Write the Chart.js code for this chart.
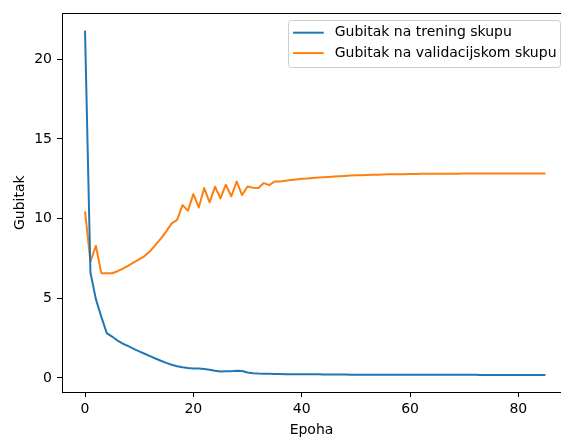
<!DOCTYPE html>
<html>
<head>
<meta charset="utf-8">
<script src="https://cdn.jsdelivr.net/npm/chart.js@4"></script>
<style>
  html, body { margin: 0; padding: 0; background: #fff; overflow: hidden; }
  #grafico { display: block; }
</style>
</head>
<body>
<canvas id="grafico" width="561" height="439"></canvas>
<script>
// vrijednosti po epohama (indeks = epoha)
const trainLoss = [
  21.8, 6.62, 4.95, 3.85, 2.82, 2.6, 2.35, 2.15, 2.0, 1.83,
  1.67, 1.52, 1.37, 1.22, 1.08, 0.95, 0.83, 0.74, 0.67, 0.62,
  0.6, 0.6, 0.57, 0.52, 0.45, 0.41, 0.42, 0.43, 0.45, 0.44,
  0.34, 0.3, 0.28, 0.27, 0.26, 0.25, 0.25, 0.24, 0.24, 0.24,
  0.23, 0.23, 0.23, 0.23, 0.22, 0.22, 0.22, 0.22, 0.22, 0.21,
  0.21, 0.21, 0.21, 0.21, 0.21, 0.21, 0.21, 0.2, 0.2, 0.2,
  0.2, 0.2, 0.2, 0.2, 0.2, 0.2, 0.2, 0.2, 0.2, 0.2,
  0.2, 0.2, 0.2, 0.19, 0.19, 0.19, 0.19, 0.19, 0.19, 0.19,
  0.19, 0.19, 0.19, 0.19, 0.19, 0.19
];
const valLoss = [
  10.45, 7.3, 8.3, 6.58, 6.57, 6.57, 6.7, 6.86, 7.05, 7.25,
  7.45, 7.65, 7.95, 8.35, 8.75, 9.2, 9.7, 9.92, 10.85, 10.5,
  11.54, 10.7, 11.92, 11.02, 12.0, 11.27, 12.13, 11.4, 12.33, 11.48,
  12.02, 11.94, 11.92, 12.23, 12.1, 12.33, 12.33, 12.38, 12.42, 12.46,
  12.5, 12.52, 12.55, 12.58, 12.6, 12.62, 12.64, 12.66, 12.68, 12.7,
  12.72, 12.73, 12.74, 12.75, 12.76, 12.77, 12.78, 12.78, 12.79, 12.79,
  12.8, 12.8, 12.81, 12.81, 12.81, 12.82, 12.82, 12.82, 12.82, 12.82,
  12.83, 12.83, 12.83, 12.83, 12.83, 12.83, 12.83, 12.83, 12.83, 12.83,
  12.83, 12.83, 12.83, 12.83, 12.83, 12.83
];
const seriesNames = ['Gubitak na trening skupu', 'Gubitak na validacijskom skupu'];
const xTicks = [0, 20, 40, 60, 80];
const yTicks = [0, 5, 10, 15, 20];

const boja1 = '#1f77b4';
const boja2 = '#ff7f0e';

Chart.defaults.font.family = 'DejaVu Sans';
Chart.defaults.font.size = 14;
Chart.defaults.color = '#000';

// gornji rub + legenda u stilu matplotliba (desni dio slike je odrezan)
const okvir = {
  id: 'okvir',
  afterDraw(chart) {
    const ctx = chart.ctx;
    const a = chart.chartArea;
    ctx.save();
    ctx.strokeStyle = '#000';
    ctx.lineWidth = 1;
    ctx.beginPath();
    ctx.moveTo(Math.round(a.left) + 0.5, Math.round(a.top) + 0.5);
    ctx.lineTo(a.right + 1, Math.round(a.top) + 0.5);
    ctx.stroke();

    ctx.font = '14px "DejaVu Sans"';
    const tw = Math.max(...seriesNames.map(s => ctx.measureText(s).width));
    const boxW = tw + 46.7 + 4;
    const boxR = 560.5;
    const boxL = boxR - boxW;
    const boxT = a.top + 6.3;
    const boxH = 47.4;
    ctx.beginPath();
    ctx.roundRect(Math.round(boxL) + 0.5, Math.round(boxT) + 0.5, Math.round(boxW), Math.round(boxH), 3);
    ctx.fillStyle = 'rgba(255,255,255,0.8)';
    ctx.fill();
    ctx.strokeStyle = '#cccccc';
    ctx.stroke();

    const boje = [boja1, boja2];
    seriesNames.forEach((s, i) => {
      const y = boxT + 13 + i * 20.4;
      ctx.strokeStyle = boje[i];
      ctx.lineWidth = 2;
      ctx.beginPath();
      ctx.moveTo(boxL + 5, y);
      ctx.lineTo(boxL + 35.7, y);
      ctx.stroke();
      ctx.fillStyle = '#000';
      ctx.textBaseline = 'middle';
      ctx.textAlign = 'left';
      ctx.fillText(s, boxL + 46.7, y);
    });
    ctx.restore();
  }
};

const data = {
  datasets: [
    {
      label: seriesNames[0],
      data: trainLoss.map((v, i) => ({ x: i, y: v })),
      borderColor: boja1,
      backgroundColor: boja1,
      borderWidth: 2,
      pointRadius: 0,
      tension: 0,
      borderJoinStyle: 'round'
    },
    {
      label: seriesNames[1],
      data: valLoss.map((v, i) => ({ x: i, y: v })),
      borderColor: boja2,
      backgroundColor: boja2,
      borderWidth: 2,
      pointRadius: 0,
      tension: 0,
      borderJoinStyle: 'round'
    }
  ]
};

const config = {
  type: 'line',
  data: data,
  options: {
    responsive: false,
    animation: false,
    devicePixelRatio: 1,
    layout: { padding: { left: 0, top: 13, right: 0, bottom: 0 } },
    plugins: {
      legend: { display: false },
      tooltip: { enabled: false }
    },
    scales: {
      x: {
        type: 'linear',
        min: -4.25,
        max: 87.87,
        afterBuildTicks: s => { s.ticks = xTicks.map(v => ({ value: v })); },
        afterFit: s => { s.height = 47; },
        ticks: { padding: 4, color: '#000', font: { size: 14 } },
        grid: { drawOnChartArea: false, drawTicks: true, tickLength: 5, tickColor: '#000', tickWidth: 1 },
        border: { display: true, color: '#000', width: 1 },
        title: { display: true, text: 'Epoha', color: '#000', font: { size: 14 }, padding: { top: 0, bottom: 0.6 } }
      },
      y: {
        type: 'linear',
        min: -0.88,
        max: 22.88,
        afterBuildTicks: s => { s.ticks = yTicks.map(v => ({ value: v })); },
        afterFit: s => { s.width = 62; },
        ticks: { padding: 5, color: '#000', font: { size: 14 } },
        grid: { drawOnChartArea: false, drawTicks: true, tickLength: 5, tickColor: '#000', tickWidth: 1 },
        border: { display: true, color: '#000', width: 1 },
        title: { display: true, text: 'Gubitak', color: '#000', font: { size: 14 }, padding: { top: 11.6, bottom: 0 } }
      }
    }
  },
  plugins: [okvir]
};

new Chart(document.getElementById('grafico').getContext('2d'), config);
</script>
</body>
</html>
